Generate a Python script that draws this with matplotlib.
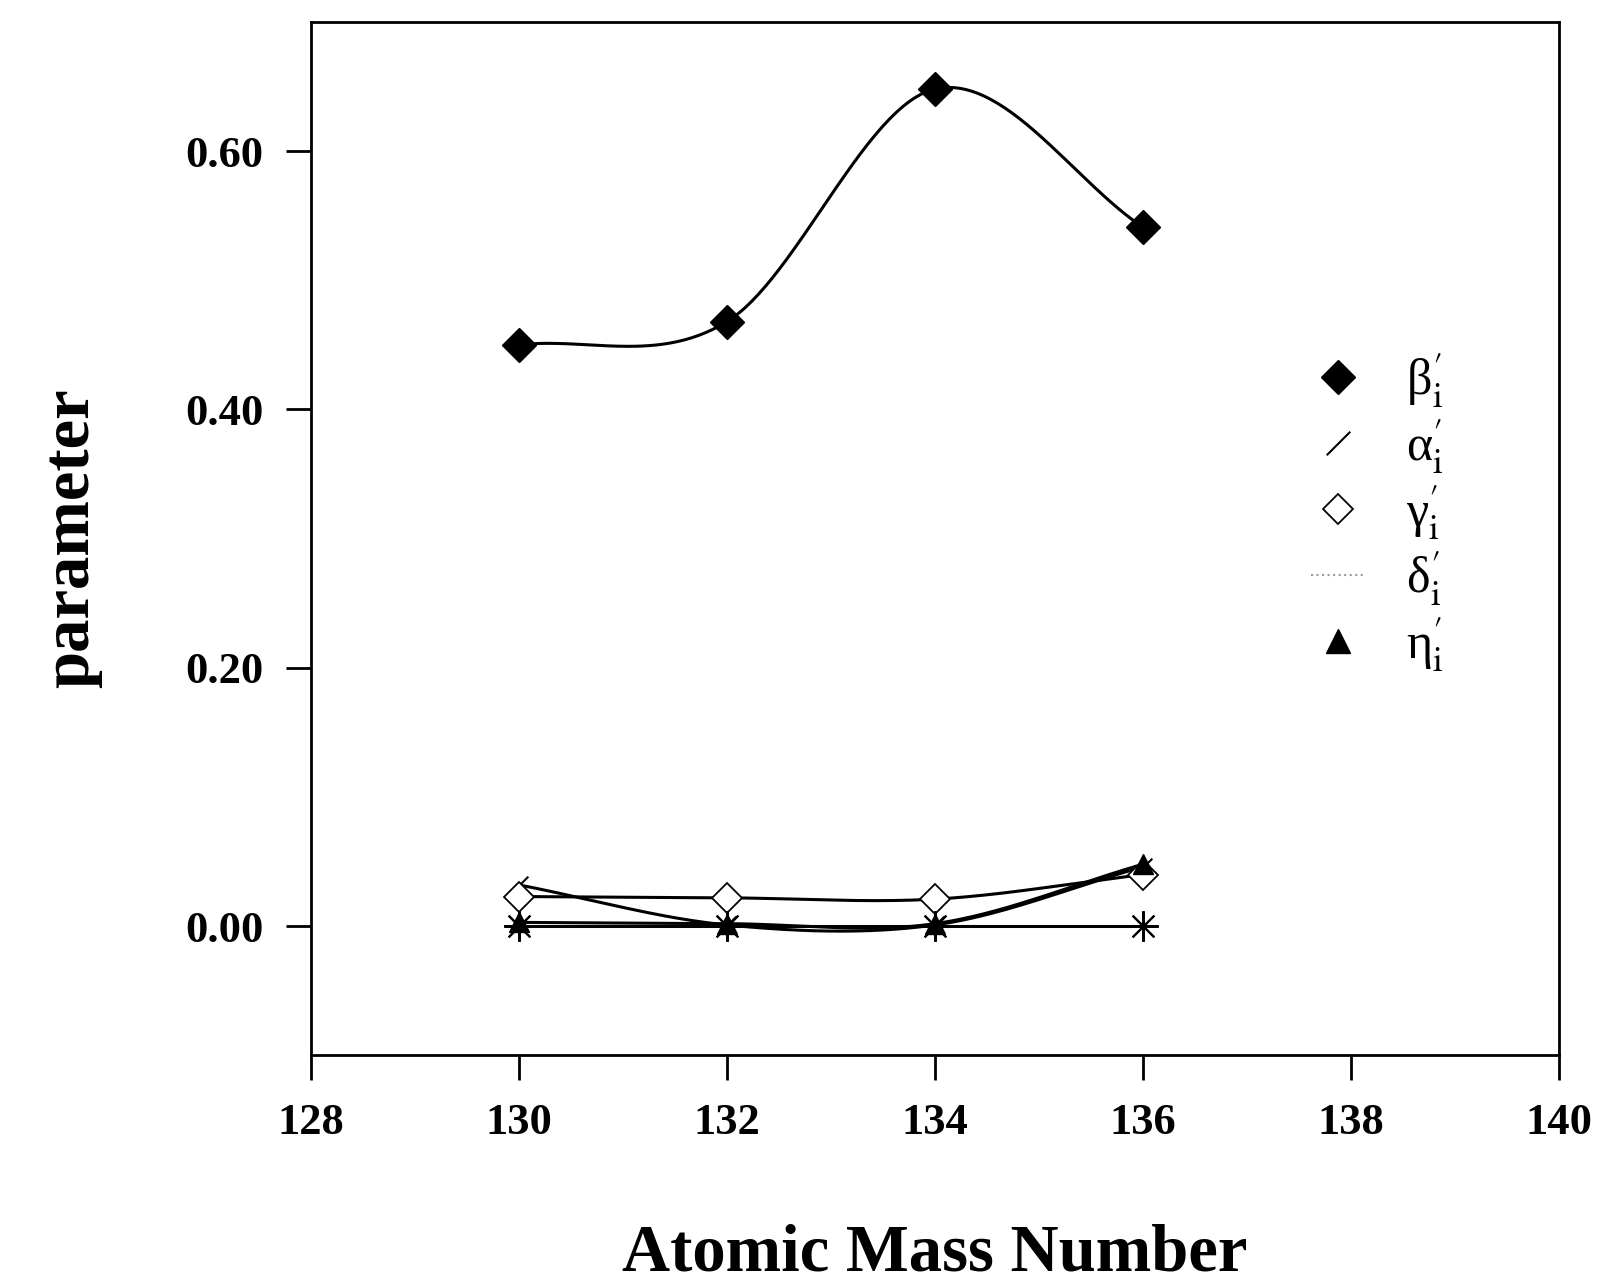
import numpy as np
import matplotlib
matplotlib.use("Agg")
import matplotlib.pyplot as plt
from matplotlib.lines import Line2D

plt.rcParams['font.family'] = ['Liberation Serif', 'DejaVu Serif']
plt.rcParams['mathtext.fontset'] = 'stix'

# data
mass = [130, 132, 134, 136]
beta = [0.450, 0.468, 0.648, 0.541]
alpha = [0.032, 0.001, 0.001, 0.046]
gamma = [0.023, 0.022, 0.021, 0.040]
delta = [0.000, 0.000, 0.000, 0.000]
eta = [0.003, 0.002, 0.002, 0.048]

xticks = [128, 130, 132, 134, 136, 138, 140]
yticks = [0.00, 0.20, 0.40, 0.60]


def smooth(x, y, n=60):
  # catmull-rom style curve between the points (drawing only)
  x = np.asarray(x, float)
  y = np.asarray(y, float)
  m = np.zeros(len(x))
  m[0] = (y[1]-y[0])/(x[1]-x[0])
  m[-1] = (y[-1]-y[-2])/(x[-1]-x[-2])
  m[1:-1] = (y[2:]-y[:-2])/(x[2:]-x[:-2])
  xs_all, ys_all = [], []
  for k in range(len(x)-1):
    h = x[k+1]-x[k]
    t = np.linspace(0, 1, n)
    h00 = 2*t**3 - 3*t**2 + 1
    h10 = t**3 - 2*t**2 + t
    h01 = -2*t**3 + 3*t**2
    h11 = t**3 - t**2
    xs_all.append(x[k] + t*h)
    ys_all.append(h00*y[k] + h10*h*m[k] + h01*y[k+1] + h11*h*m[k+1])
  return np.concatenate(xs_all), np.concatenate(ys_all)


fig = plt.figure(figsize=(15.99, 12.84), dpi=100)
ax = fig.add_axes([0.1945, 0.178, 0.7805, 0.805])

slash = (2, 0, -45)
star = (8, 2, 0)

for vals in [delta, eta, gamma, alpha, beta]:
  xs, ys = smooth(mass, vals)
  ax.plot(xs, ys, color='black', lw=2.2)

ax.plot(mass, beta, ls='none', marker='D', ms=17, color='black')
ax.plot(mass, alpha, ls='none', marker=slash, ms=18, mew=1.5, color='black')
ax.plot(mass, gamma, ls='none', marker='D', ms=15, mfc='white', mec='black', mew=1.3)
ax.plot(mass, delta, ls='none', marker=star, ms=22, mew=1.5, color='black')
ax.plot(mass, eta, ls='none', marker='^', ms=14, color='black')

ax.set_xlim(128, 140)
ax.set_ylim(-0.10, 0.70)
ax.set_xticks(xticks)
ax.set_yticks(yticks)
ax.set_yticklabels(['%.2f' % v for v in yticks])
ax.tick_params(direction='out', length=18, width=2, labelsize=32, pad=16)
for lab in ax.get_xticklabels() + ax.get_yticklabels():
  lab.set_fontweight('bold')
for sp in ax.spines.values():
  sp.set_linewidth(2)

ax.set_xlabel('Atomic Mass Number', fontsize=48, fontweight='bold', labelpad=58)
ax.set_ylabel('parameter', fontsize=48, fontweight='bold', labelpad=60)

handles = [
  Line2D([], [], ls='none', marker='D', ms=17, color='black'),
  Line2D([], [], ls='none', marker=slash, ms=24, mew=1.5, color='black'),
  Line2D([], [], ls='none', marker='D', ms=15, mfc='white', mec='black', mew=1.3),
  Line2D([], [], ls=':', lw=1.5, color='#999999'),
  Line2D([], [], ls='none', marker='^', ms=17, color='black'),
]
names = ['β', 'α', 'γ', 'δ', 'η']
labels = [nm + r"$^{\prime}_{\mathrm{i}}$" for nm in names]
ax.legend(handles, labels, loc='upper left', bbox_to_anchor=(0.765, 0.725),
          frameon=False, fontsize=36, handlelength=1.1, handletextpad=0.8,
          labelspacing=0.15)

plt.savefig('out.png', dpi=100)
